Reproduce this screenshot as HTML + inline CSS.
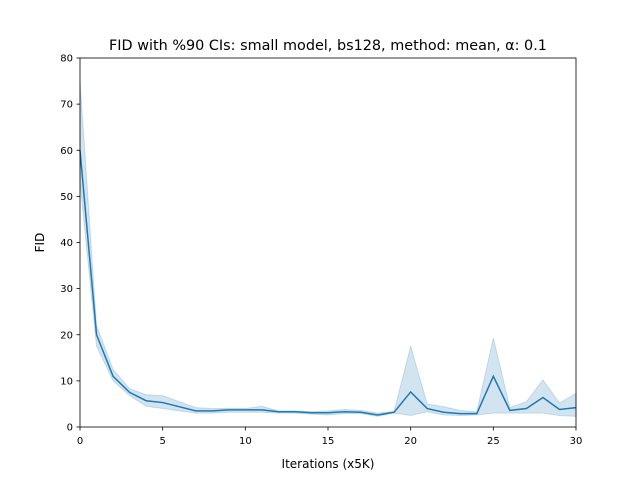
<!DOCTYPE html>
<html><head><meta charset="utf-8"><style>
body{margin:0;background:#fff}
svg{display:block;font-family:"DejaVu Sans","Liberation Sans",sans-serif}
</style></head><body>
<svg id="chart" width="640" height="480">
<rect width="640" height="480" fill="#fff"/>
<text x="328" y="50" font-size="14.4" text-anchor="middle">FID with %90 CIs: small model, bs128, method: mean, α: 0.1</text>
<g id="plot"></g>
<text x="328" y="468" font-size="12" text-anchor="middle">Iterations (x5K)</text>
<text transform="translate(44,242.5) rotate(-90)" font-size="12" text-anchor="middle">FID</text>
</svg>
<script>
const iters=[0,1,2,3,4,5,6,7,8,9,10,11,12,13,14,15,16,17,18,19,20,21,22,23,24,25,26,27,28,29,30];
const meanFid=[60,20,11,7.5,5.7,5.3,4.4,3.5,3.5,3.7,3.7,3.7,3.3,3.3,3.1,3.1,3.3,3.2,2.6,3.2,7.6,4,3.2,2.9,2.9,11,3.6,4,6.4,3.8,4.2];
const upperFid=[75,22,12.5,8.3,7,6.8,5.5,4.2,4,4,4,4.5,3.5,3.5,3.3,3.5,3.8,3.6,3,3.4,17.5,5,4.4,3.6,3.3,19.3,4.2,5.5,10.2,5.2,7.3];
const lowerFid=[53,17.5,10,6.8,4.5,4,3.5,3,3,3.2,3.2,3.2,3,3,2.8,2.6,2.9,2.9,2.3,3,2.5,3.3,2.6,2.5,2.6,3,3,3,3,2.5,2.3];
const xTicks=[0,5,10,15,20,25,30];
const yTicks=[0,10,20,30,40,50,60,70,80];
const L=80,R=576,T=58,B=427;
const X=v=>L+(v-0)/30*(R-L);
const Y=v=>B-(v-0)/80*(B-T);
const NS="http://www.w3.org/2000/svg";
const g=document.getElementById('plot');
function mk(t,a){const e=document.createElementNS(NS,t);for(const k in a)e.setAttribute(k,a[k]);g.appendChild(e);return e;}
let d=iters.map((x,i)=>(i?'L':'M')+X(x)+','+Y(upperFid[i])).join('');
for(let i=iters.length-1;i>=0;i--)d+='L'+X(iters[i])+','+Y(lowerFid[i]);
const band=mk('path',{d:d+'Z',fill:'#1f77b4','fill-opacity':0.2,stroke:'#1f77b4','stroke-opacity':0.2});


const line=mk('path',{d:iters.map((x,i)=>(i?'L':'M')+X(x)+','+Y(meanFid[i])).join(''),fill:'none',stroke:'#1f77b4','stroke-width':1.5});


const frame=mk('rect',{x:L,y:T,width:R-L,height:B-T,fill:'none',stroke:'#000','stroke-width':0.8});


xTicks.forEach(v=>{
  mk('line',{x1:X(v),x2:X(v),y1:B,y2:B+3.5,stroke:'#000','stroke-width':0.8});
  const t=mk('text',{x:X(v),y:B+17,'font-size':10,'text-anchor':'middle'});t.textContent=v;
  
  
});
yTicks.forEach(v=>{
  mk('line',{x1:L-3.5,x2:L,y1:Y(v),y2:Y(v),stroke:'#000','stroke-width':0.8});
  const t=mk('text',{x:L-7,y:Y(v)+3.5,'font-size':10,'text-anchor':'end'});t.textContent=v;
  
  
});
</script>
</body></html>
